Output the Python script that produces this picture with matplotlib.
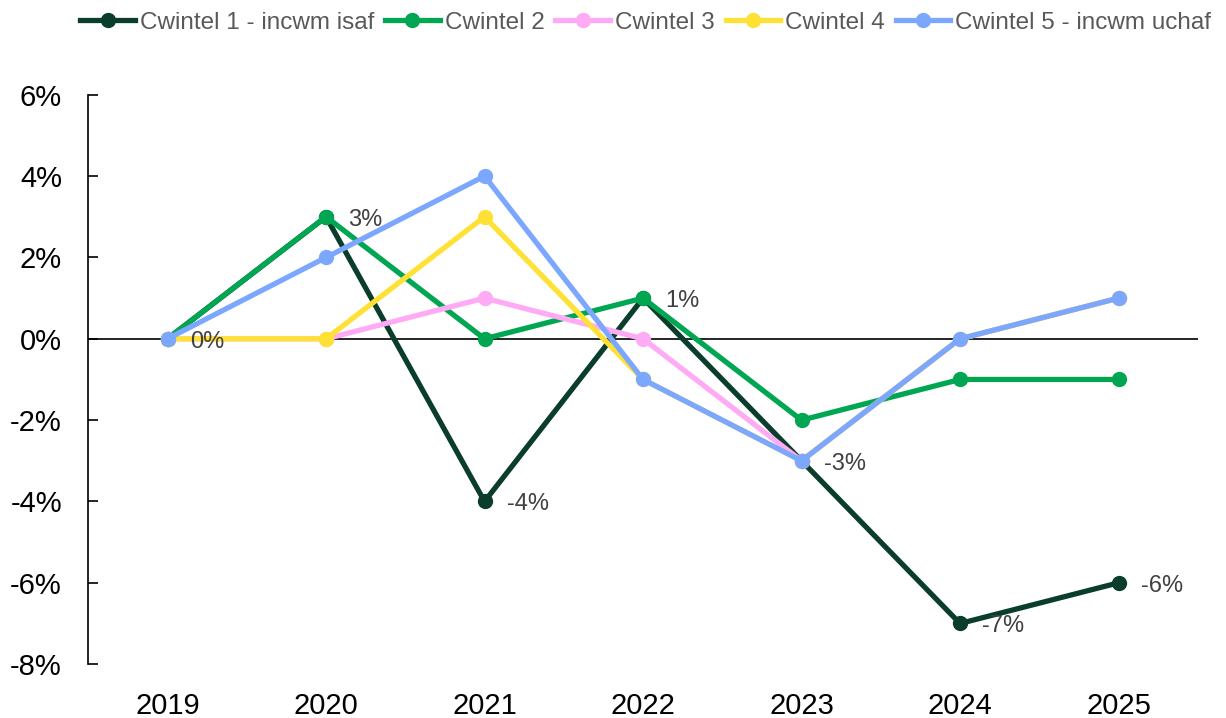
import matplotlib
matplotlib.use("Agg")
from matplotlib import pyplot as plt
from matplotlib.ticker import FuncFormatter

years = ["2019", "2020", "2021", "2022", "2023", "2024", "2025"]
names = ["Cwintel 1 - incwm isaf", "Cwintel 2", "Cwintel 3", "Cwintel 4", "Cwintel 5 - incwm uchaf"]
cwintel_1 = [0, 3, -4, 1, -3, -7, -6]
cwintel_2 = [0, 3, 0, 1, -2, -1, -1]
cwintel_3 = [0, 0, 1, 0, -3, 0, 1]
cwintel_4 = [0, 0, 3, -1, -3, 0, 1]
cwintel_5 = [0, 2, 4, -1, -3, 0, 1]
colors = ["#0b3d2c", "#00a651", "#ffaaf5", "#ffe135", "#7ba7ff"]

plt.rcParams['font.family'] = ['Liberation Sans', 'DejaVu Sans']

fig, ax = plt.subplots(figsize=(12.26, 7.18), dpi=100)
fig.subplots_adjust(left=0.072, right=0.977, top=0.868, bottom=0.075)

x = list(range(len(years)))
series = [cwintel_1, cwintel_2, cwintel_3, cwintel_4, cwintel_5]
ax.axhline(0, color='black', linewidth=1.2, zorder=1)
for name, vals, col in zip(names, series, colors):
    ax.plot(x, vals, '-o', color=col, linewidth=3.8, markersize=10, label=name, zorder=3)

# data labels for series 1
for xi, v in zip(x, cwintel_1):
    ax.annotate(f"{v}%", (xi, v), xytext=(16, -2), textcoords='offset points',
                ha='left', va='center', fontsize=17, color='#404040', zorder=5)

ax.set_xlim(-0.5, 6.5)
ax.set_ylim(-8, 6)
ax.set_yticks(range(-8, 7, 2))
ax.yaxis.set_major_formatter(FuncFormatter(lambda v, p: f"{int(v)}%"))
ax.set_xticks(x)
ax.set_xticklabels(years)
ax.tick_params(axis='x', length=0, labelsize=21, pad=20)
ax.tick_params(axis='y', direction='in', length=7, width=1.2, labelsize=21, pad=19)
for s in ['top', 'right', 'bottom']:
    ax.spines[s].set_visible(False)
ax.spines['left'].set_linewidth(1.2)

ax.legend(loc='upper left', bbox_to_anchor=(-0.016, 1.163), ncol=5, frameon=False,
          fontsize=17.5, labelcolor='#595959', handlelength=2.25, handletextpad=0.2,
          columnspacing=0.45, borderaxespad=0)

plt.savefig("out.png", dpi=100)
